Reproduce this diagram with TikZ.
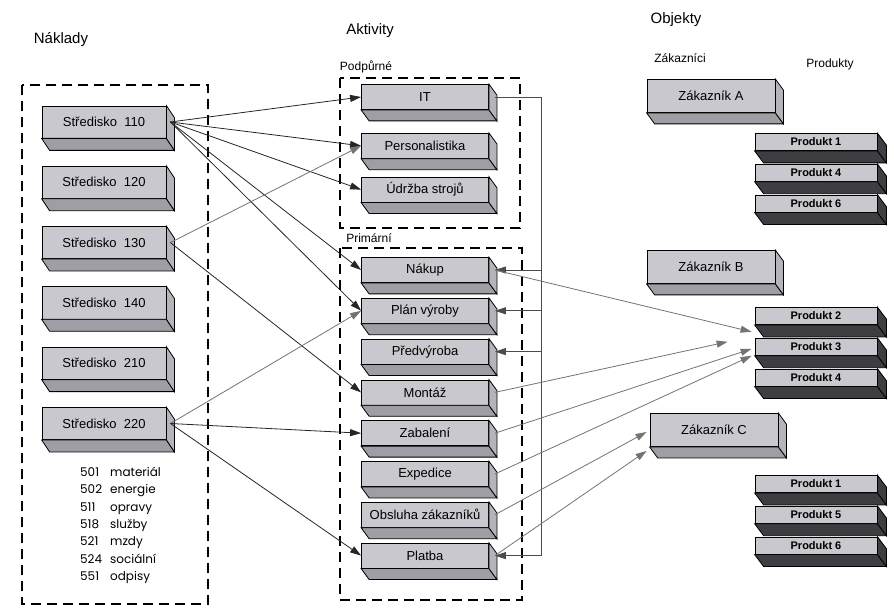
\documentclass[tikz,border=0pt]{standalone}
\usepackage{fontspec}
\setmainfont{Liberation Sans}
\newfontfamily\legendfont{Poppins}
\usetikzlibrary{arrows.meta, positioning, calc}
\usepackage{xcolor}
\definecolor{boxfront}{RGB}{200,200,206}
\definecolor{boxbottom}{RGB}{158,158,164}
\definecolor{boxside}{RGB}{180,180,186}
\definecolor{proddark}{RGB}{62,62,66}

% bottom and right faces of a box node: #1 node, #2/#3 depth, #4/#5 fills
\newcommand{\extrude}[5]{%
  \filldraw[line width=0.8pt, fill=#4] (#1.south west) -- (#1.south east) -- ++(#2,#3) -- ([shift={(#2,#3)}]#1.south west) -- cycle;
  \filldraw[line width=0.8pt, fill=#5] (#1.north east) -- ++(#2,#3) -- ([shift={(#2,#3)}]#1.south east) -- (#1.south east) -- cycle;}

\begin{document}
\begin{tikzpicture}[
  x=1pt, y=-1pt,
  stredisko/.style={rectangle, draw, line width=0.8pt, fill=boxfront, inner sep=0pt, minimum width=124pt, minimum height=32pt, font=\fontsize{13}{15}\selectfont},
  aktivita/.style={rectangle, draw, line width=0.8pt, fill=boxfront, inner sep=0pt, minimum width=127pt, minimum height=25pt, font=\fontsize{13}{15}\selectfont},
  zakaznik/.style={rectangle, draw, line width=0.8pt, fill=boxfront, inner sep=0pt, minimum width=128pt, minimum height=33pt, font=\fontsize{13}{15}\selectfont},
  produkt/.style={rectangle, draw, line width=0.8pt, fill=boxfront, inner sep=0pt, minimum width=122pt, minimum height=17pt, font=\bfseries\fontsize{11}{13}\selectfont},
  group/.style={draw, line width=1.1pt, dash pattern=on 10pt off 6pt},
  heading/.style={font=\fontsize{15}{18}\selectfont},
  subheading/.style={font=\fontsize{12}{14}\selectfont},
  arrow/.style={-{Triangle[length=11pt, width=7pt]}, line width=0.8pt, color=black!85},
  thin arrow/.style={arrow, color=black!55},
  bus/.style={line width=0.8pt, color=black!70},
]
  \useasboundingbox (0,0) rectangle (894,612);

  % headings
  \node[heading] (hnaklady) at (61,40) {Náklady};
  \node[heading] (haktivity) at (370,31) {Aktivity};
  \node[heading] (hobjekty) at (676,20) {Objekty};
  \node[subheading] (hpodpurne) at (366,67) {Podpůrné};
  \node[subheading] (hprimarni) at (369,238) {Primární};
  \node[subheading] (hzakaznici) at (680,58) {Zákazníci};
  \node[subheading] (hprodukty) at (830,64) {Produkty};

  % groups
  \draw[group] (22,85) rectangle (208,604);
  \draw[group] (340,78) rectangle (520,228);
  \draw[group] (340,248) rectangle (522,600);

  % cost centres
  \node[stredisko] (s110) at (104,122) {Středisko~~110};
  \node[stredisko, below=27.5pt of s110] (s120) {Středisko~~120};
  \node[stredisko, below=27.5pt of s120] (s130) {Středisko~~130};
  \node[stredisko, below=27.5pt of s130] (s140) {Středisko~~140};
  \node[stredisko, below=27.5pt of s140] (s210) {Středisko~~210};
  \node[stredisko, below=27.5pt of s210] (s220) {Středisko~~220};
  \foreach \n in {s110,s120,s130,s140,s210,s220}
    \extrude{\n}{8}{12}{boxbottom}{boxside};

  \node[anchor=west, inner sep=0pt, font=\legendfont\fontsize{12}{17.3}\selectfont] (kody) at (80,525) {%
    \begin{tabular}{@{}l@{\hspace{8pt}}l@{}}
      501 & materiál\\
      502 & energie\\
      511 & opravy\\
      518 & služby\\
      521 & mzdy\\
      524 & sociální\\
      551 & odpisy
    \end{tabular}};

  % activities
  \node[aktivita] (it) at (425,97) {IT};
  \node[aktivita, below=23pt of it] (pers) {Personalistika};
  \node[aktivita, below=18pt of pers] (udrzba) {Údržba strojů};
  \node[aktivita] (nakup) at (425,270) {Nákup};
  \node[aktivita, below=15pt of nakup] (plan) {Plán výroby};
  \node[aktivita, below=15pt of plan] (predv) {Předvýroba};
  \node[aktivita, below=15pt of predv] (montaz) {Montáž};
  \node[aktivita, below=15pt of montaz] (zabal) {Zabalení};
  \node[aktivita, below=15pt of zabal] (exped) {Expedice};
  \node[aktivita, below=15pt of exped] (obsl) {Obsluha zákazníků};
  \node[aktivita, below=15pt of obsl] (platba) {Platba};
  \foreach \n in {it,pers,udrzba,nakup,plan,predv,montaz,zabal,exped,obsl,platba}
    \extrude{\n}{8}{11}{boxbottom}{boxside};

  % customers and products
  \node[zakaznik] (zakA) at (711,96) {Zákazník A};
  \node[zakaznik] (zakB) at (711,267) {Zákazník B};
  \node[zakaznik] (zakC) at (714,430) {Zákazník C};
  \foreach \n in {zakA,zakB,zakC}
    \extrude{\n}{8}{11}{boxbottom}{boxside};

  \node[produkt] (pA1) at (816,142) {Produkt 1};
  \node[produkt, below=13pt of pA1] (pA4) {Produkt 4};
  \node[produkt, below=13pt of pA4] (pA6) {Produkt 6};
  \node[produkt] (pB2) at (816,316) {Produkt 2};
  \node[produkt, below=13pt of pB2] (pB3) {Produkt 3};
  \node[produkt, below=13pt of pB3] (pB4) {Produkt 4};
  \node[produkt] (pC1) at (816,484) {Produkt 1};
  \node[produkt, below=13pt of pC1] (pC5) {Produkt 5};
  \node[produkt, below=13pt of pC5] (pC6) {Produkt 6};
  \foreach \n in {pA1,pA4,pA6,pB2,pB3,pB4,pC1,pC5,pC6}
    \extrude{\n}{9}{12}{proddark}{proddark};

  % costs to activities
  \foreach \t in {it,pers,udrzba,nakup,plan}
    \draw[arrow] ([xshift=4pt]s110.east) -- (\t.west);
  \draw[thin arrow] ([xshift=4pt]s130.east) -- (pers.west);
  \draw[arrow] ([xshift=4pt]s130.east) -- (montaz.west);
  \draw[thin arrow] ([xshift=4pt]s220.east) -- (plan.west);
  \draw[arrow] ([xshift=4pt]s220.east) -- (zabal.west);
  \draw[arrow] ([xshift=4pt]s220.east) -- (platba.west);

  % IT feeds the primary activities
  \coordinate (bus) at (541,0);
  \draw[bus, arrow, color=black!70] ([xshift=6pt]it.east) -| (bus |- platba.east) -- ([xshift=6pt]platba.east);
  \foreach \t in {nakup,plan,predv}
    \draw[bus, arrow, color=black!70] (bus |- \t.east) -- ([xshift=6pt]\t.east);

  % activities to objects
  \draw[thin arrow] ([xshift=6pt]nakup.east) -- ([shift={(-3,-15)}]pB3.west);
  \draw[thin arrow] ([xshift=6pt]montaz.east) -- ([shift={(-27,-5)}]pB3.west);
  \draw[thin arrow] ([xshift=6pt]zabal.east) -- ([shift={(-3,2)}]pB3.west);
  \draw[thin arrow] ([xshift=6pt]exped.east) -- ([shift={(-3,9)}]pB3.west);
  \draw[thin arrow] ([xshift=6pt]obsl.east) -- ([shift={(-3,2)}]zakC.west);
  \draw[thin arrow] ([xshift=6pt]platba.east) -- ([shift={(-3,4)}]zakC.south west);
\end{tikzpicture}
\end{document}
